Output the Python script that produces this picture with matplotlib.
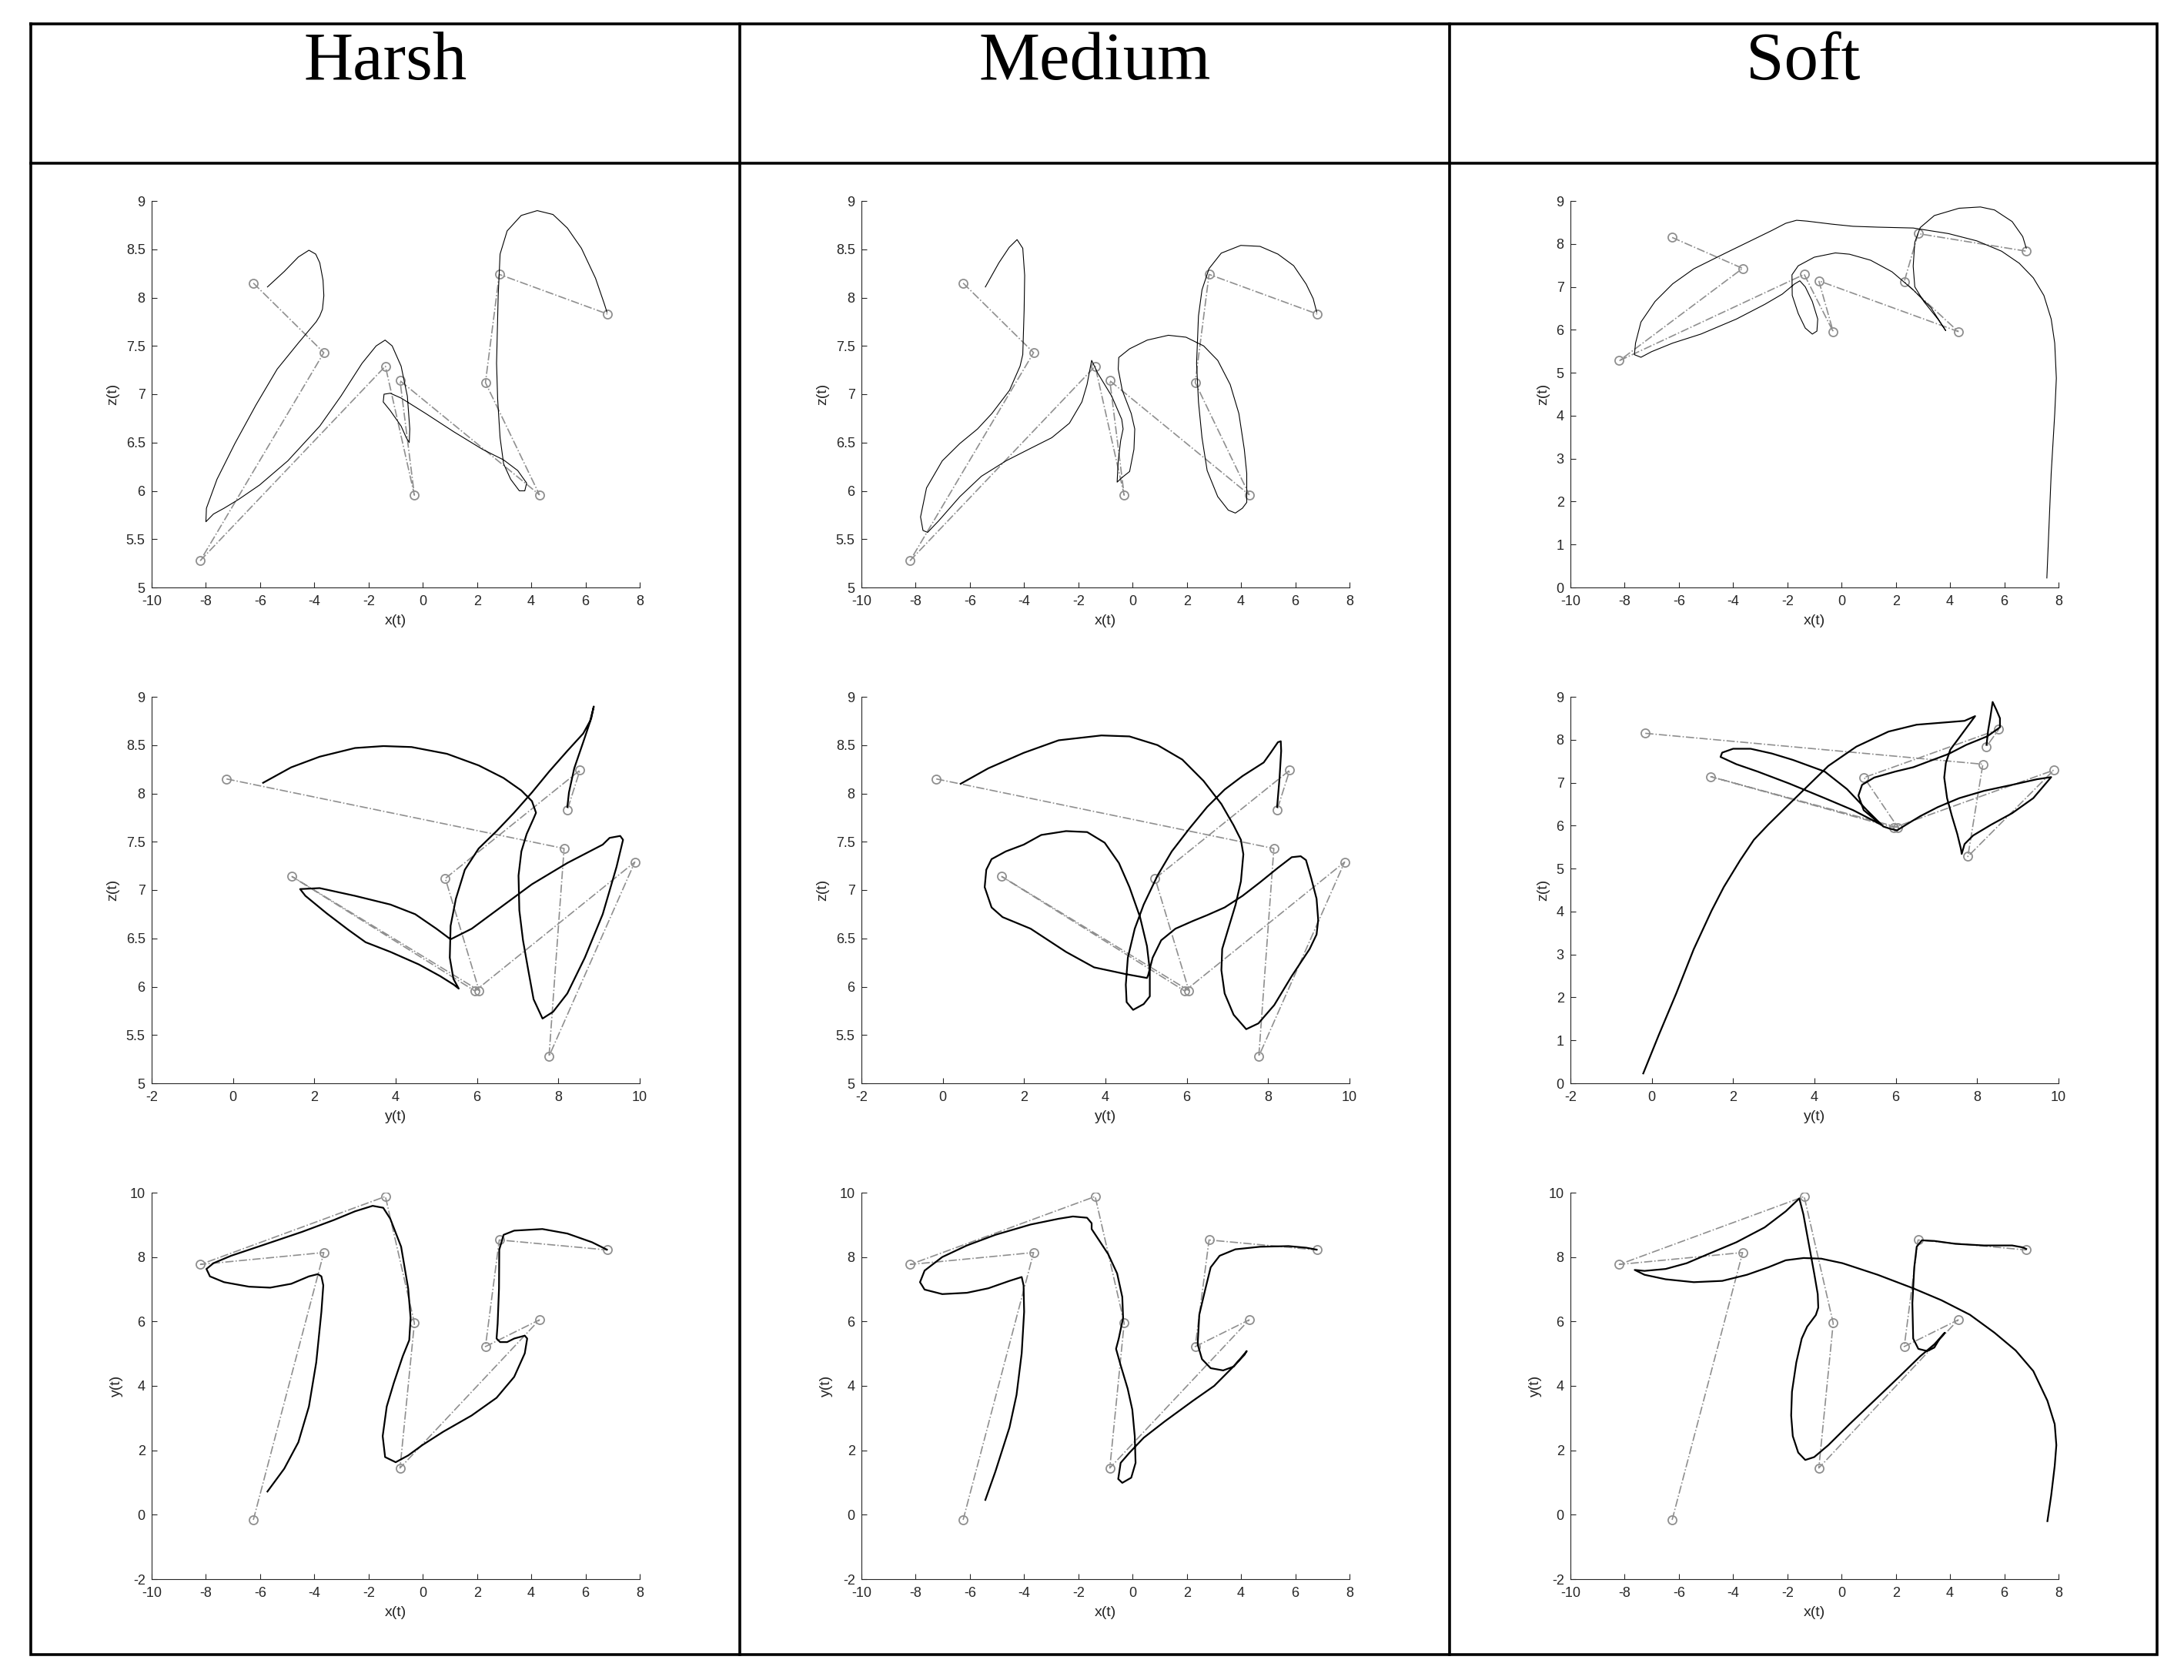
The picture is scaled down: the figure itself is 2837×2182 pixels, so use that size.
import matplotlib
matplotlib.use("Agg")
import matplotlib.pyplot as plt
from matplotlib.ticker import FuncFormatter, MultipleLocator

plt.rcParams['font.family'] = ['Liberation Sans', 'DejaVu Sans']

W, H = 2837, 2182

columns = ["Harsh", "Medium", "Soft"]

# control points (same for every panel)
ctrl_x = [-6.25, -3.65, -8.2, -1.38, -0.31, -0.84, 4.3, 2.31, 2.82, 6.81]
ctrl_y = [-0.16, 8.14, 7.77, 9.88, 5.95, 1.45, 6.05, 5.22, 8.53, 8.22]
ctrl_z = [8.15, 7.43, 5.28, 7.29, 5.955, 7.14, 5.96, 7.12, 8.24, 7.83]

# curves, (horizontal, vertical) per panel
harsh_xz = [(-5.73, 8.11), (-5.11, 8.27), (-4.59, 8.42), (-4.2, 8.49), (-3.95, 8.45), (-3.8, 8.36),
            (-3.68, 8.18), (-3.65, 8.02), (-3.7, 7.88), (-3.8, 7.81), (-3.93, 7.75), (-4.59, 7.53),
            (-5.37, 7.26), (-6.15, 6.89), (-6.93, 6.49), (-7.59, 6.12), (-7.98, 5.82), (-8.0, 5.68),
            (-7.72, 5.76), (-7.33, 5.82), (-6.8, 5.91), (-6.02, 6.06), (-4.98, 6.31), (-3.8, 6.67),
            (-3.02, 6.98), (-2.24, 7.32), (-1.72, 7.5), (-1.39, 7.56), (-1.13, 7.5), (-0.8, 7.29),
            (-0.57, 6.98), (-0.48, 6.64), (-0.5, 6.5), (-0.61, 6.55), (-0.8, 6.67), (-1.2, 6.83),
            (-1.46, 6.92), (-1.43, 7.0), (-1.2, 7.01), (-0.8, 6.96), (0.11, 6.8), (1.15, 6.61),
            (2.2, 6.43), (2.98, 6.32), (3.5, 6.21), (3.83, 6.08), (3.76, 6.0), (3.56, 6.0),
            (3.24, 6.12), (2.98, 6.28), (2.85, 6.55), (2.76, 6.95), (2.72, 7.32), (2.78, 8.02),
            (2.85, 8.45), (3.11, 8.69), (3.63, 8.85), (4.22, 8.9), (4.8, 8.86), (5.33, 8.72),
            (5.85, 8.51), (6.37, 8.2), (6.7, 7.93), (6.79, 7.85)]

medium_xz = [(-5.43, 8.11), (-4.93, 8.36), (-4.55, 8.52), (-4.26, 8.6), (-4.05, 8.51), (-3.98, 8.23),
             (-4.0, 7.87), (-4.05, 7.41), (-4.15, 7.29), (-4.54, 7.04), (-5.19, 6.8), (-5.72, 6.64),
             (-6.37, 6.49), (-7.02, 6.31), (-7.6, 6.03), (-7.82, 5.73), (-7.73, 5.59), (-7.56, 5.57),
             (-7.15, 5.69), (-6.37, 5.94), (-5.58, 6.15), (-4.67, 6.31), (-3.76, 6.44), (-2.98, 6.55),
             (-2.33, 6.7), (-1.87, 6.92), (-1.68, 7.1), (-1.51, 7.35), (-1.29, 7.22), (-0.77, 6.98),
             (-0.4, 6.74), (-0.35, 6.64), (-0.44, 6.52), (-0.53, 6.31), (-0.57, 6.09), (-0.38, 6.14),
             (-0.11, 6.2), (0.05, 6.43), (0.08, 6.64), (-0.05, 6.8), (-0.38, 7.04), (-0.53, 7.26),
             (-0.51, 7.38), (-0.11, 7.47), (0.54, 7.56), (1.32, 7.61), (1.97, 7.59), (2.62, 7.5),
             (3.14, 7.35), (3.6, 7.1), (3.92, 6.8), (4.12, 6.43), (4.21, 6.18), (4.21, 5.88),
             (4.05, 5.82), (3.79, 5.77), (3.53, 5.8), (3.14, 5.94), (2.75, 6.21), (2.56, 6.55),
             (2.43, 6.92), (2.36, 7.32), (2.43, 7.81), (2.56, 8.08), (2.82, 8.3), (3.27, 8.46),
             (3.99, 8.54), (4.7, 8.53), (5.36, 8.45), (5.94, 8.33), (6.4, 8.14), (6.66, 7.99),
             (6.79, 7.85)]

soft_xz = [(7.57, 0.22), (7.73, 2.66), (7.86, 4.04), (7.92, 4.87), (7.86, 5.69), (7.73, 6.25),
           (7.46, 6.8), (7.07, 7.21), (6.55, 7.55), (5.9, 7.83), (4.99, 8.07), (3.94, 8.24),
           (2.64, 8.37), (1.33, 8.39), (0.42, 8.41), (-0.36, 8.46), (-1.27, 8.53), (-1.66, 8.55),
           (-2.06, 8.48), (-2.58, 8.31), (-3.36, 8.07), (-4.27, 7.79), (-5.45, 7.42), (-6.23, 7.07),
           (-6.88, 6.66), (-7.4, 6.18), (-7.6, 5.69), (-7.64, 5.42), (-7.4, 5.36), (-7.01, 5.49),
           (-6.23, 5.69), (-5.19, 5.9), (-3.88, 6.25), (-2.84, 6.59), (-2.19, 6.83), (-1.73, 7.07),
           (-1.54, 7.14), (-1.34, 7.0), (-1.08, 6.66), (-0.88, 6.25), (-0.91, 5.97), (-1.08, 5.9),
           (-1.34, 6.04), (-1.6, 6.38), (-1.82, 6.8), (-1.83, 7.28), (-1.6, 7.49), (-1.01, 7.69),
           (-0.23, 7.79), (0.29, 7.76), (1.07, 7.62), (1.86, 7.35), (2.64, 6.93), (3.29, 6.52),
           (3.84, 5.98), (3.55, 6.25), (3.03, 6.66), (2.7, 7.0), (2.64, 7.48), (2.7, 8.04),
           (2.9, 8.38), (3.42, 8.66), (4.33, 8.83), (5.12, 8.86), (5.64, 8.79), (6.29, 8.52),
           (6.68, 8.17), (6.81, 7.9)]

harsh_yz = [(0.74, 8.11), (1.43, 8.27), (2.13, 8.38), (3.0, 8.47), (3.7, 8.49), (4.39, 8.48),
            (5.26, 8.41), (6.04, 8.29), (6.65, 8.16), (7.09, 8.03), (7.35, 7.92), (7.45, 7.8),
            (7.39, 7.74), (7.22, 7.58), (7.09, 7.4), (7.02, 7.15), (7.04, 6.79), (7.13, 6.48),
            (7.26, 6.17), (7.39, 5.87), (7.61, 5.67), (7.87, 5.74), (8.22, 5.93), (8.65, 6.3),
            (9.09, 6.75), (9.43, 7.24), (9.59, 7.52), (9.52, 7.56), (9.26, 7.54), (9.09, 7.47),
            (8.22, 7.28), (7.35, 7.06), (6.48, 6.79), (5.87, 6.6), (5.35, 6.49), (5.0, 6.6),
            (4.48, 6.75), (3.87, 6.85), (3.0, 6.94), (2.13, 7.02), (1.65, 7.01), (1.78, 6.94),
            (2.3, 6.76), (2.83, 6.59), (3.26, 6.46), (3.87, 6.36), (4.57, 6.23), (5.09, 6.11),
            (5.43, 6.02), (5.55, 5.98), (5.42, 6.08), (5.33, 6.3), (5.35, 6.63), (5.48, 6.91),
            (5.7, 7.21), (6.04, 7.43), (6.48, 7.61), (6.91, 7.8), (7.35, 8.01), (7.78, 8.23),
            (8.22, 8.44), (8.61, 8.62), (8.78, 8.75), (8.87, 8.9), (8.81, 8.78), (8.61, 8.53),
            (8.39, 8.26), (8.26, 8.01), (8.22, 7.86)]

medium_yz = [(0.44, 8.1), (1.12, 8.26), (1.99, 8.42), (2.85, 8.55), (3.9, 8.6), (4.59, 8.59),
             (5.28, 8.5), (5.89, 8.35), (6.41, 8.13), (6.85, 7.89), (7.15, 7.67), (7.33, 7.52),
             (7.39, 7.37), (7.33, 7.09), (7.2, 6.85), (7.02, 6.6), (6.87, 6.39), (6.85, 6.17),
             (6.93, 5.93), (7.15, 5.71), (7.46, 5.56), (7.76, 5.62), (8.15, 5.81), (8.58, 6.11),
             (9.02, 6.39), (9.19, 6.54), (9.23, 6.69), (9.19, 6.91), (9.06, 7.12), (8.93, 7.31),
             (8.8, 7.35), (8.58, 7.34), (8.24, 7.23), (7.8, 7.08), (7.37, 6.94), (6.93, 6.82),
             (6.5, 6.74), (6.15, 6.68), (5.72, 6.6), (5.37, 6.48), (5.16, 6.3), (5.05, 6.12),
             (5.02, 6.09), (4.5, 6.13), (3.72, 6.2), (3.03, 6.36), (2.16, 6.6), (1.47, 6.72),
             (1.2, 6.82), (1.03, 7.03), (1.07, 7.21), (1.2, 7.32), (1.55, 7.4), (1.99, 7.47),
             (2.42, 7.57), (3.03, 7.61), (3.55, 7.6), (3.98, 7.49), (4.33, 7.28), (4.59, 7.03),
             (4.85, 6.72), (5.02, 6.42), (5.09, 6.17), (5.09, 5.9), (4.94, 5.82), (4.68, 5.76),
             (4.52, 5.84), (4.5, 6.02), (4.55, 6.3), (4.72, 6.6), (4.94, 6.85), (5.28, 7.15),
             (5.63, 7.4), (6.07, 7.64), (6.5, 7.86), (6.93, 8.04), (7.37, 8.18), (7.89, 8.32),
             (8.06, 8.42), (8.24, 8.53), (8.31, 8.54), (8.32, 8.44), (8.28, 8.16), (8.22, 7.86)]

soft_yz = [(-0.21, 0.23), (0.17, 1.12), (0.6, 2.09), (1.03, 3.12), (1.47, 4.02), (1.77, 4.57),
           (2.17, 5.19), (2.51, 5.67), (2.86, 6.02), (3.3, 6.43), (3.82, 6.91), (4.34, 7.39),
           (5.03, 7.84), (5.82, 8.19), (6.51, 8.35), (7.3, 8.41), (7.69, 8.44), (7.95, 8.55),
           (7.77, 8.32), (7.56, 8.05), (7.34, 7.77), (7.23, 7.46), (7.19, 7.12), (7.26, 6.64),
           (7.38, 6.22), (7.51, 5.81), (7.6, 5.46), (7.62, 5.34), (7.69, 5.57), (7.9, 5.77),
           (8.34, 6.02), (8.86, 6.29), (9.38, 6.64), (9.82, 7.13), (9.47, 7.08), (8.86, 6.95),
           (8.17, 6.81), (7.56, 6.64), (7.03, 6.43), (6.6, 6.22), (6.25, 6.02), (6.03, 5.89),
           (5.85, 5.93), (5.69, 5.98), (5.3, 6.35), (4.8, 6.85), (4.25, 7.26), (3.47, 7.53),
           (2.95, 7.68), (2.43, 7.79), (2.0, 7.79), (1.73, 7.7), (1.69, 7.6), (2.08, 7.43),
           (2.6, 7.26), (3.38, 6.98), (4.25, 6.64), (4.95, 6.36), (5.38, 6.15), (5.64, 6.02),
           (5.21, 6.36), (5.08, 6.7), (5.17, 6.95), (5.47, 7.12), (5.99, 7.26), (6.43, 7.36),
           (7.3, 7.67), (7.73, 7.88), (8.25, 8.08), (8.56, 8.29), (8.56, 8.5), (8.47, 8.7),
           (8.38, 8.88), (8.32, 8.5), (8.27, 8.22), (8.23, 7.88)]

harsh_xy = [(-5.73, 0.72), (-5.11, 1.43), (-4.59, 2.25), (-4.2, 3.36), (-3.93, 4.73), (-3.74, 6.3),
            (-3.67, 7.12), (-3.74, 7.4), (-3.87, 7.47), (-4.2, 7.4), (-4.85, 7.17), (-5.63, 7.05),
            (-6.41, 7.08), (-7.33, 7.22), (-7.85, 7.4), (-7.98, 7.63), (-7.72, 7.81), (-7.07, 8.04),
            (-5.76, 8.41), (-4.46, 8.78), (-3.28, 9.15), (-2.5, 9.42), (-1.85, 9.59), (-1.46, 9.53),
            (-1.2, 9.19), (-0.8, 8.32), (-0.54, 7.03), (-0.45, 6.11), (-0.5, 5.42), (-0.74, 4.92),
            (-1.07, 4.09), (-1.33, 3.36), (-1.48, 2.44), (-1.39, 1.79), (-1.0, 1.63), (-0.54, 1.84),
            (-0.02, 2.16), (0.76, 2.58), (1.8, 3.08), (2.72, 3.63), (3.37, 4.28), (3.76, 5.01),
            (3.85, 5.47), (3.76, 5.56), (3.37, 5.47), (3.11, 5.36), (2.85, 5.36), (2.72, 5.47),
            (2.76, 5.93), (2.81, 7.03), (2.82, 8.23), (2.98, 8.69), (3.37, 8.82), (4.41, 8.87),
            (5.33, 8.73), (6.24, 8.46), (6.79, 8.23)]

medium_xy = [(-5.43, 0.46), (-5.06, 1.34), (-4.54, 2.71), (-4.28, 3.72), (-4.09, 5.01), (-4.0, 6.3),
             (-4.02, 7.12), (-4.09, 7.38), (-4.54, 7.26), (-5.32, 7.03), (-6.11, 6.89), (-7.02, 6.85),
             (-7.67, 6.99), (-7.84, 7.22), (-7.67, 7.58), (-7.02, 8.0), (-6.11, 8.36), (-5.06, 8.69),
             (-3.76, 9.01), (-2.72, 9.19), (-2.2, 9.26), (-1.68, 9.22), (-1.51, 9.05), (-1.51, 8.87),
             (-1.29, 8.59), (-0.9, 8.09), (-0.57, 7.49), (-0.38, 6.76), (-0.35, 6.11), (-0.51, 5.47),
             (-0.61, 5.15), (-0.44, 4.64), (-0.18, 3.91), (-0.01, 3.26), (0.08, 2.44), (0.11, 1.61),
             (-0.05, 1.15), (-0.38, 0.99), (-0.53, 1.11), (-0.44, 1.61), (-0.11, 1.93), (0.41, 2.39),
             (1.19, 2.9), (2.23, 3.54), (3.01, 4.0), (3.66, 4.55), (4.12, 4.96), (4.21, 5.08),
             (4.05, 4.92), (3.73, 4.6), (3.34, 4.48), (2.88, 4.55), (2.56, 4.83), (2.4, 5.29),
             (2.46, 6.21), (2.69, 7.03), (2.88, 7.68), (3.21, 8.04), (3.79, 8.24), (4.7, 8.32),
             (5.75, 8.34), (6.4, 8.29), (6.79, 8.23)]

soft_xy = [(7.59, -0.2), (7.73, 0.6), (7.86, 1.52), (7.92, 2.16), (7.86, 2.81), (7.59, 3.54),
           (7.07, 4.46), (6.42, 5.1), (5.64, 5.65), (4.73, 6.21), (3.68, 6.66), (2.64, 7.03),
           (1.33, 7.45), (0.03, 7.81), (-0.75, 7.95), (-1.4, 7.97), (-2.06, 7.9), (-2.71, 7.68),
           (-3.49, 7.45), (-4.4, 7.26), (-5.45, 7.22), (-6.49, 7.31), (-7.27, 7.45), (-7.63, 7.6),
           (-7.27, 7.57), (-6.49, 7.63), (-5.71, 7.81), (-4.93, 8.09), (-3.88, 8.46), (-2.84, 8.92),
           (-2.06, 9.42), (-1.56, 9.82), (-1.41, 9.33), (-1.21, 8.41), (-1.01, 7.49), (-0.88, 6.85),
           (-0.86, 6.43), (-0.95, 6.2), (-1.27, 5.84), (-1.47, 5.47), (-1.67, 4.73), (-1.83, 3.82),
           (-1.86, 3.08), (-1.8, 2.44), (-1.6, 1.93), (-1.34, 1.7), (-1.01, 1.79), (-0.49, 2.16),
           (0.29, 2.81), (1.2, 3.54), (2.12, 4.28), (2.9, 4.92), (3.42, 5.29), (3.81, 5.65),
           (3.62, 5.47), (3.42, 5.19), (3.16, 5.08), (2.83, 5.15), (2.64, 5.47), (2.61, 6.57),
           (2.68, 7.68), (2.77, 8.32), (2.96, 8.52), (3.42, 8.5), (4.2, 8.41), (5.25, 8.36),
           (6.29, 8.36), (6.68, 8.3), (6.81, 8.25)]

curves = {
    "Harsh": [harsh_xz, harsh_yz, harsh_xy],
    "Medium": [medium_xz, medium_yz, medium_xy],
    "Soft": [soft_xz, soft_yz, soft_xy],
}

# layout, in pixels of the final image
col_left = [197, 1119, 2040]
col_right = [831, 1753, 2674]
row_top = [261, 905, 1549]
row_bottom = [763, 1407, 2051]
tbl_left, tbl_right, tbl_top, tbl_bottom = 40, 2802, 31, 2149
tbl_div = [961, 1883]
tbl_head = 212

fig = plt.figure(figsize=(W / 100, H / 100), dpi=100)

frame = fig.add_axes([0, 0, 1, 1])
frame.set_xlim(0, W)
frame.set_ylim(H, 0)
frame.axis('off')
lw_tbl = 2.6
frame.plot([tbl_left, tbl_right, tbl_right, tbl_left, tbl_left],
           [tbl_top, tbl_top, tbl_bottom, tbl_bottom, tbl_top], color='black', lw=lw_tbl,
           solid_joinstyle='miter')
for xd in tbl_div:
    frame.plot([xd, xd], [tbl_top, tbl_bottom], color='black', lw=lw_tbl)
frame.plot([tbl_left, tbl_right], [tbl_head, tbl_head], color='black', lw=lw_tbl)

col_centers = [(tbl_left + tbl_div[0]) / 2, (tbl_div[0] + tbl_div[1]) / 2, (tbl_div[1] + tbl_right) / 2]
for name, xc in zip(columns, col_centers):
    frame.text(xc, 103, name, ha='center', va='baseline', fontsize=64,
               family=['Liberation Serif', 'DejaVu Serif'])

fmt = FuncFormatter(lambda v, p: '%g' % v)
axis_color = '#262626'
gray = '#8f8f8f'

panel_spec = [
    # (horizontal ctrl, vertical ctrl, xlim, xlabel, ylabel, xstep)
    ('x', 'z', (-10, 8), 'x(t)', 'z(t)', 2),
    ('y', 'z', (-2, 10), 'y(t)', 'z(t)', 2),
    ('x', 'y', (-10, 8), 'x(t)', 'y(t)', 2),
]
ctrl = {'x': ctrl_x, 'y': ctrl_y, 'z': ctrl_z}

for c, name in enumerate(columns):
    for r, (hk, vk, xlim, xl, yl, xstep) in enumerate(panel_spec):
        left = col_left[c] / W
        bottom = 1 - row_bottom[r] / H
        width = (col_right[c] - col_left[c]) / W
        height = (row_bottom[r] - row_top[r]) / H
        ax = fig.add_axes([left, bottom, width, height])
        ax.set_facecolor('none')

        ax.plot(ctrl[hk], ctrl[vk], linestyle='-.', color=gray, lw=1.2,
                marker='o', markersize=8, markerfacecolor='none',
                markeredgecolor=gray, markeredgewidth=1.3)

        pts = curves[name][r]
        hx = [p[0] for p in pts]
        vy = [p[1] for p in pts]
        ax.plot(hx, vy, color='black', lw=0.8 if r == 0 else 1.6)

        ax.set_xlim(*xlim)
        if vk == 'z':
            if name == 'Soft':
                ax.set_ylim(0, 9)
                ax.yaxis.set_major_locator(MultipleLocator(1))
            else:
                ax.set_ylim(5, 9)
                ax.yaxis.set_major_locator(MultipleLocator(0.5))
        else:
            ax.set_ylim(-2, 10)
            ax.yaxis.set_major_locator(MultipleLocator(2))
        ax.xaxis.set_major_locator(MultipleLocator(xstep))
        ax.xaxis.set_major_formatter(fmt)
        ax.yaxis.set_major_formatter(fmt)

        for s in ['top', 'right']:
            ax.spines[s].set_visible(False)
        for s in ['left', 'bottom']:
            ax.spines[s].set_color(axis_color)
            ax.spines[s].set_linewidth(0.8)
        ax.tick_params(direction='in', length=5, width=0.8, colors=axis_color,
                       labelsize=13)
        ax.tick_params(axis='x', pad=7)
        ax.tick_params(axis='y', pad=6)
        ax.set_xlabel(xl, fontsize=14, color=axis_color, labelpad=6)
        ax.set_ylabel(yl, fontsize=14, color=axis_color, labelpad=6)

fig.savefig('out.png', dpi=100, facecolor='white')
